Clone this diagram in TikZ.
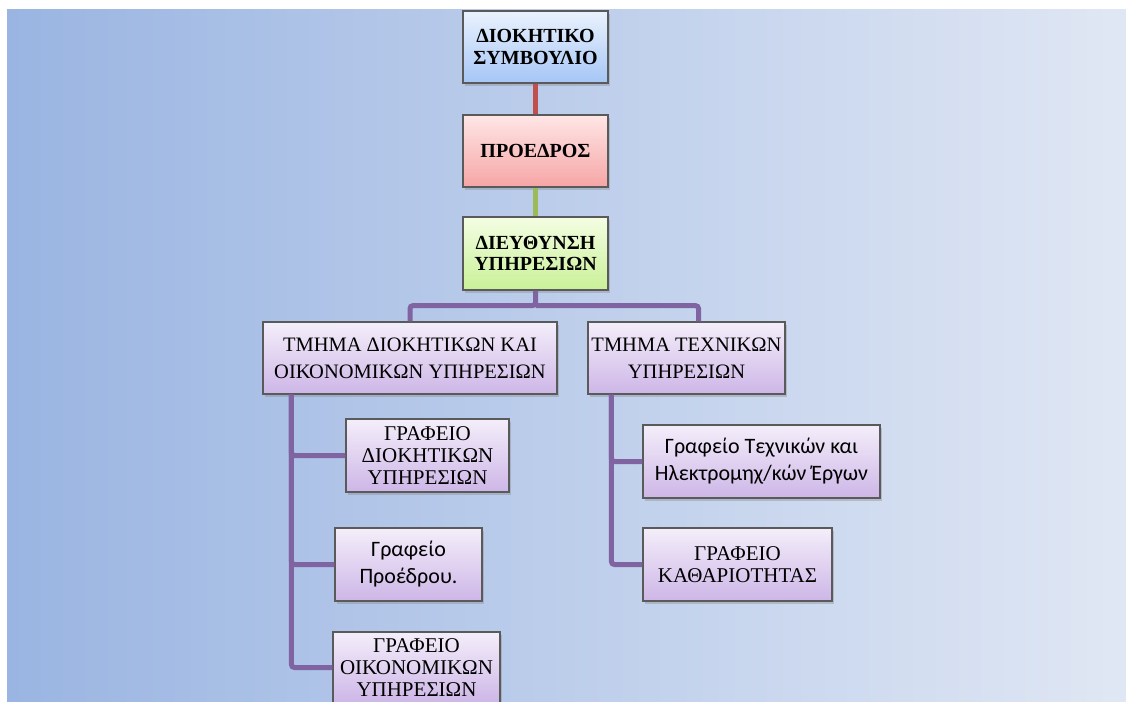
\documentclass[tikz,border=0pt]{standalone}
\usepackage{fontspec}
\setmainfont{Liberation Serif}
\newfontfamily\calib{Carlito}
\usetikzlibrary{calc,shadows}
\definecolor{bgl}{HTML}{9AB5E2}
\definecolor{bgr}{HTML}{E0E7F4}
\definecolor{edge}{HTML}{5A5A5A}
\definecolor{blueT}{HTML}{EAF2FD}
\definecolor{blueB}{HTML}{A6C6F6}
\definecolor{redT}{HTML}{FFE6E6}
\definecolor{redB}{HTML}{F6A5A5}
\definecolor{greenT}{HTML}{F4FDE2}
\definecolor{greenB}{HTML}{C9F198}
\definecolor{lilaT}{HTML}{F4EEFA}
\definecolor{lilaB}{HTML}{CDB6E7}
\definecolor{redline}{HTML}{C0504D}
\definecolor{greenline}{HTML}{9BBB59}
\definecolor{purpline}{HTML}{8064A2}

\begin{document}
\begin{tikzpicture}[x=1pt,y=-1pt,
box/.style={draw=edge,line width=1.2pt,rectangle,align=center,inner sep=2pt,
  drop shadow={shadow xshift=2pt,shadow yshift=-3pt,opacity=0.35}},
head/.style={box,minimum width=145pt,minimum height=72pt,font=\fontsize{20}{21.5}\selectfont\bfseries},
lila/.style={box,top color=lilaT,bottom color=lilaB},
dept/.style={lila,minimum height=72pt,font=\fontsize{20.5}{27}\selectfont},
office/.style={lila,minimum height=73pt,font=\fontsize{21}{22}\selectfont},
officesf/.style={lila,minimum height=73pt,font=\calib\fontsize{22}{27}\selectfont},
conn/.style={line width=5pt,rounded corners=3pt}]
	\useasboundingbox (0,0) rectangle (1126,701);
	\fill[left color=bgl,right color=bgr] (7,10) rectangle (1126,701);

	\node[head,top color=blueT,bottom color=blueB] at (535.5,47) (b1) {ΔΙΟΚΗΤΙΚΟ\\ΣΥΜΒΟΥΛΙΟ};
	\node[head,top color=redT,bottom color=redB] at (535.5,151) (b2) {ΠΡΟΕΔΡΟΣ};
	\node[head,top color=greenT,bottom color=greenB,minimum height=73pt] at (535.5,253.5) (b3) {ΔΙΕΥΘΥΝΣΗ\\ΥΠΗΡΕΣΙΩΝ};

	\node[dept,minimum width=294pt] at (410,358) (d1) {ΤΜΗΜΑ ΔΙΟΚΗΤΙΚΩΝ ΚΑΙ\\ΟΙΚΟΝΟΜΙΚΩΝ ΥΠΗΡΕΣΙΩΝ};
	\node[dept,minimum width=197pt] at (686.5,358) (d2) {ΤΜΗΜΑ ΤΕΧΝΙΚΩΝ\\ΥΠΗΡΕΣΙΩΝ};

	\node[office,minimum width=163pt] at (427.5,455.5) (o1) {ΓΡΑΦΕΙΟ\\ΔΙΟΚΗΤΙΚΩΝ\\ΥΠΗΡΕΣΙΩΝ};
	\node[officesf,minimum width=147pt] at (408.5,564.5) (o2) {Γραφείο\\Προέδρου.};
	\node[office,minimum width=167pt,minimum height=71pt] at (416.5,667.5) (o3) {ΓΡΑΦΕΙΟ\\ΟΙΚΟΝΟΜΙΚΩΝ\\ΥΠΗΡΕΣΙΩΝ};

	\node[officesf,minimum width=237pt] at (761.5,461.5) (t1) {Γραφείο Τεχνικών και\\Ηλεκτρομηχ/κών Έργων};
	\node[office,minimum width=189pt] at (737.5,564.5) (t2) {ΓΡΑΦΕΙΟ\\ΚΑΘΑΡΙΟΤΗΤΑΣ};

	\coordinate (split) at ($(b3.south)+(0,15)$);
	\coordinate (p1) at ([xshift=29pt]d1.south west);
	\coordinate (p2) at ([xshift=24pt]d2.south west);
	\coordinate (p3) at ([xshift=12pt]d2.north);

	\draw[line width=4.5pt,redline] (b1) -- (b2);
	\draw[line width=4.5pt,greenline] (b2) -- (b3);
	\draw[conn,purpline] (b3.south) -- (split) -| (d1.north);
	\draw[conn,purpline] (split) -| (p3);
	\draw[conn,purpline] (p1) |- (o1.west);
	\draw[conn,purpline] (p1) |- (o2.west);
	\draw[conn,purpline] (p1) |- (o3.west);
	\draw[conn,purpline] (p2) |- (t1.west);
	\draw[conn,purpline] (p2) |- (t2.west);
\end{tikzpicture}
\end{document}
